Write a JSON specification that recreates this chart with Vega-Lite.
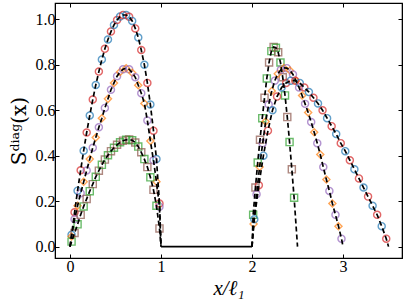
{
  "$schema": "https://vega.github.io/schema/vega-lite/v6.json",
  "width": 347,
  "height": 255,
  "autosize": "none",
  "padding": {"left": 55, "top": 3, "right": 5, "bottom": 47},
  "background": "white",
  "config": {"view": {"stroke": "black", "strokeWidth": 1.2}, "font": "Liberation Serif", "axis": {"labelFont": "Liberation Serif", "titleFont": "Liberation Serif"}},
  "datasets": {
    "pts": [
      {"c":"1","g":"none","x":0,"y":0},
      {"c":"1","g":"blue","x":0.017,"y":0.052},{"c":"1","g":"red","x":0.05,"y":0.151},{"c":"1","g":"blue","x":0.083,"y":0.246},{"c":"1","g":"red","x":0.117,"y":0.336},{"c":"1","g":"blue","x":0.15,"y":0.422},{"c":"1","g":"red","x":0.183,"y":0.502},{"c":"1","g":"blue","x":0.217,"y":0.577},{"c":"1","g":"red","x":0.25,"y":0.647},{"c":"1","g":"blue","x":0.283,"y":0.711},{"c":"1","g":"red","x":0.317,"y":0.77},{"c":"1","g":"blue","x":0.35,"y":0.823},{"c":"1","g":"red","x":0.383,"y":0.87},{"c":"1","g":"blue","x":0.417,"y":0.911},{"c":"1","g":"red","x":0.45,"y":0.946},{"c":"1","g":"blue","x":0.483,"y":0.975},{"c":"1","g":"red","x":0.517,"y":0.997},{"c":"1","g":"blue","x":0.55,"y":1.012},{"c":"1","g":"red","x":0.583,"y":1.019},{"c":"1","g":"blue","x":0.617,"y":1.019},{"c":"1","g":"red","x":0.65,"y":1.011},{"c":"1","g":"blue","x":0.683,"y":0.993},{"c":"1","g":"red","x":0.717,"y":0.96},{"c":"1","g":"blue","x":0.75,"y":0.92},{"c":"1","g":"red","x":0.783,"y":0.865},{"c":"1","g":"blue","x":0.817,"y":0.8},{"c":"1","g":"red","x":0.85,"y":0.72},{"c":"1","g":"blue","x":0.883,"y":0.625},{"c":"1","g":"red","x":0.917,"y":0.51},{"c":"1","g":"blue","x":0.95,"y":0.385},{"c":"1","g":"red","x":0.983,"y":0.19},
      {"c":"1","g":"none","x":1,"y":0},
      {"c":"2","g":"none","x":0,"y":0},
      {"c":"2","g":"orange","x":0.017,"y":0.045},{"c":"2","g":"purple","x":0.05,"y":0.12},{"c":"2","g":"orange","x":0.083,"y":0.18},{"c":"2","g":"purple","x":0.117,"y":0.235},{"c":"2","g":"orange","x":0.15,"y":0.285},{"c":"2","g":"purple","x":0.183,"y":0.335},{"c":"2","g":"orange","x":0.217,"y":0.385},{"c":"2","g":"purple","x":0.25,"y":0.435},{"c":"2","g":"orange","x":0.283,"y":0.48},{"c":"2","g":"purple","x":0.317,"y":0.525},{"c":"2","g":"orange","x":0.35,"y":0.565},{"c":"2","g":"purple","x":0.383,"y":0.61},{"c":"2","g":"orange","x":0.417,"y":0.65},{"c":"2","g":"purple","x":0.45,"y":0.69},{"c":"2","g":"orange","x":0.483,"y":0.72},{"c":"2","g":"purple","x":0.517,"y":0.75},{"c":"2","g":"orange","x":0.55,"y":0.768},{"c":"2","g":"purple","x":0.583,"y":0.78},{"c":"2","g":"orange","x":0.617,"y":0.785},{"c":"2","g":"purple","x":0.65,"y":0.78},{"c":"2","g":"orange","x":0.683,"y":0.765},{"c":"2","g":"purple","x":0.717,"y":0.745},{"c":"2","g":"orange","x":0.75,"y":0.71},{"c":"2","g":"purple","x":0.783,"y":0.675},{"c":"2","g":"orange","x":0.817,"y":0.63},{"c":"2","g":"purple","x":0.85,"y":0.555},{"c":"2","g":"orange","x":0.883,"y":0.465},{"c":"2","g":"purple","x":0.917,"y":0.38},{"c":"2","g":"orange","x":0.95,"y":0.285},{"c":"2","g":"purple","x":0.983,"y":0.175},
      {"c":"2","g":"none","x":1,"y":0},
      {"c":"3","g":"none","x":0,"y":0},
      {"c":"3","g":"green","x":0.017,"y":0.022},{"c":"3","g":"brown","x":0.05,"y":0.06},{"c":"3","g":"green","x":0.083,"y":0.098},{"c":"3","g":"brown","x":0.117,"y":0.14},{"c":"3","g":"green","x":0.15,"y":0.177},{"c":"3","g":"brown","x":0.183,"y":0.21},{"c":"3","g":"green","x":0.217,"y":0.244},{"c":"3","g":"brown","x":0.25,"y":0.275},{"c":"3","g":"green","x":0.283,"y":0.307},{"c":"3","g":"brown","x":0.317,"y":0.334},{"c":"3","g":"green","x":0.35,"y":0.36},{"c":"3","g":"brown","x":0.383,"y":0.383},{"c":"3","g":"green","x":0.417,"y":0.402},{"c":"3","g":"brown","x":0.45,"y":0.42},{"c":"3","g":"green","x":0.483,"y":0.435},{"c":"3","g":"brown","x":0.517,"y":0.448},{"c":"3","g":"green","x":0.55,"y":0.459},{"c":"3","g":"brown","x":0.583,"y":0.466},{"c":"3","g":"green","x":0.617,"y":0.47},{"c":"3","g":"brown","x":0.65,"y":0.471},{"c":"3","g":"green","x":0.683,"y":0.468},{"c":"3","g":"brown","x":0.717,"y":0.458},{"c":"3","g":"green","x":0.75,"y":0.44},{"c":"3","g":"brown","x":0.783,"y":0.415},{"c":"3","g":"green","x":0.817,"y":0.385},{"c":"3","g":"brown","x":0.85,"y":0.35},{"c":"3","g":"green","x":0.883,"y":0.305},{"c":"3","g":"brown","x":0.917,"y":0.25},{"c":"3","g":"green","x":0.95,"y":0.18},{"c":"3","g":"brown","x":0.983,"y":0.08},
      {"c":"3","g":"none","x":1,"y":0},
      {"c":"A","g":"none","x":2,"y":0},
      {"c":"A","g":"green","x":2.0125,"y":0.14},{"c":"A","g":"brown","x":2.0375,"y":0.26},{"c":"A","g":"green","x":2.0625,"y":0.37},{"c":"A","g":"brown","x":2.0875,"y":0.47},{"c":"A","g":"green","x":2.1125,"y":0.565},{"c":"A","g":"brown","x":2.1375,"y":0.655},{"c":"A","g":"green","x":2.1625,"y":0.74},{"c":"A","g":"brown","x":2.1875,"y":0.81},{"c":"A","g":"green","x":2.2125,"y":0.86},{"c":"A","g":"brown","x":2.2375,"y":0.878},{"c":"A","g":"green","x":2.2625,"y":0.875},{"c":"A","g":"brown","x":2.2875,"y":0.855},{"c":"A","g":"green","x":2.3125,"y":0.81},{"c":"A","g":"brown","x":2.3375,"y":0.745},{"c":"A","g":"green","x":2.3625,"y":0.665},{"c":"A","g":"brown","x":2.3875,"y":0.57},{"c":"A","g":"green","x":2.4125,"y":0.46},{"c":"A","g":"brown","x":2.4375,"y":0.34},{"c":"A","g":"green","x":2.4625,"y":0.215},
      {"c":"A","g":"none","x":2.5,"y":0},
      {"c":"B","g":"none","x":2,"y":0},
      {"c":"B","g":"orange","x":2.017,"y":0.1},{"c":"B","g":"purple","x":2.05,"y":0.23},{"c":"B","g":"orange","x":2.083,"y":0.35},{"c":"B","g":"purple","x":2.117,"y":0.455},{"c":"B","g":"orange","x":2.15,"y":0.55},{"c":"B","g":"purple","x":2.183,"y":0.625},{"c":"B","g":"orange","x":2.217,"y":0.685},{"c":"B","g":"purple","x":2.25,"y":0.73},{"c":"B","g":"orange","x":2.283,"y":0.76},{"c":"B","g":"purple","x":2.317,"y":0.778},{"c":"B","g":"orange","x":2.35,"y":0.786},{"c":"B","g":"purple","x":2.383,"y":0.785},{"c":"B","g":"orange","x":2.417,"y":0.775},{"c":"B","g":"purple","x":2.45,"y":0.757},{"c":"B","g":"orange","x":2.483,"y":0.73},{"c":"B","g":"purple","x":2.517,"y":0.7},{"c":"B","g":"orange","x":2.55,"y":0.665},{"c":"B","g":"purple","x":2.583,"y":0.628},{"c":"B","g":"orange","x":2.617,"y":0.59},{"c":"B","g":"purple","x":2.65,"y":0.548},{"c":"B","g":"orange","x":2.683,"y":0.503},{"c":"B","g":"purple","x":2.717,"y":0.455},{"c":"B","g":"orange","x":2.75,"y":0.405},{"c":"B","g":"purple","x":2.783,"y":0.35},{"c":"B","g":"orange","x":2.817,"y":0.295},{"c":"B","g":"purple","x":2.85,"y":0.245},{"c":"B","g":"orange","x":2.883,"y":0.19},{"c":"B","g":"purple","x":2.917,"y":0.14},{"c":"B","g":"orange","x":2.95,"y":0.09},{"c":"B","g":"purple","x":2.983,"y":0.035},
      {"c":"B","g":"none","x":3,"y":0},
      {"c":"C","g":"none","x":2,"y":0},
      {"c":"C","g":"blue","x":2.025,"y":0.12},{"c":"C","g":"red","x":2.075,"y":0.27},{"c":"C","g":"blue","x":2.125,"y":0.4},{"c":"C","g":"red","x":2.175,"y":0.51},{"c":"C","g":"blue","x":2.225,"y":0.6},{"c":"C","g":"red","x":2.275,"y":0.66},{"c":"C","g":"blue","x":2.325,"y":0.7},{"c":"C","g":"red","x":2.375,"y":0.72},{"c":"C","g":"blue","x":2.425,"y":0.73},{"c":"C","g":"red","x":2.475,"y":0.73},{"c":"C","g":"blue","x":2.525,"y":0.72},{"c":"C","g":"red","x":2.575,"y":0.7},{"c":"C","g":"blue","x":2.625,"y":0.68},{"c":"C","g":"red","x":2.675,"y":0.655},{"c":"C","g":"blue","x":2.725,"y":0.63},{"c":"C","g":"red","x":2.775,"y":0.6},{"c":"C","g":"blue","x":2.825,"y":0.565},{"c":"C","g":"red","x":2.875,"y":0.53},{"c":"C","g":"blue","x":2.925,"y":0.495},{"c":"C","g":"red","x":2.975,"y":0.455},{"c":"C","g":"blue","x":3.025,"y":0.42},{"c":"C","g":"red","x":3.075,"y":0.38},{"c":"C","g":"blue","x":3.125,"y":0.34},{"c":"C","g":"red","x":3.175,"y":0.3},{"c":"C","g":"blue","x":3.225,"y":0.26},{"c":"C","g":"red","x":3.275,"y":0.22},{"c":"C","g":"blue","x":3.325,"y":0.18},{"c":"C","g":"red","x":3.375,"y":0.14},{"c":"C","g":"blue","x":3.425,"y":0.09},{"c":"C","g":"red","x":3.475,"y":0.035},
      {"c":"C","g":"none","x":3.5,"y":0}
    ],
    "flat": [{"x": 1, "y": 0}, {"x": 2, "y": 0}]
  },
  "layer": [
    {
      "data": {"name": "pts"},
      "transform": [{"filter": "datum.g != 'none'"}],
      "mark": {"type": "point", "filled": false, "strokeWidth": 1.4, "size": 50},
      "encoding": {
        "x": {"field": "x", "type": "quantitative",
          "scale": {"domain": [-0.165, 3.648], "nice": false, "zero": false},
          "axis": {"values": [0, 1, 2, 3], "format": "d", "title": "x/ℓ₁", "titleFont": "Liberation Serif", "titleFontSize": 21, "titleFontStyle": "italic", "titleFontWeight": "normal", "titleColor": "black", "titlePadding": 3, "labelFont": "Liberation Serif", "labelFontSize": 16, "labelColor": "black", "labelPadding": 4, "tickSize": -4, "tickColor": "black", "domainColor": "black", "grid": false}},
        "y": {"field": "y", "type": "quantitative",
          "scale": {"domain": [-0.05, 1.0717], "nice": false, "zero": false},
          "axis": {"values": [0, 0.2, 0.4, 0.6, 0.8, 1.0], "format": ".1f", "title": "Sᵈⁱᵃᵍ(x)", "titleFont": "DejaVu Serif", "titleFontSize": 20, "titleFontStyle": "normal", "titleFontWeight": "normal", "titleColor": "black", "titlePadding": 6, "labelFont": "Liberation Serif", "labelFontSize": 16, "labelColor": "black", "labelPadding": 4, "tickSize": -4, "tickColor": "black", "domainColor": "black", "grid": false}},
        "color": {"field": "g", "type": "nominal", "scale": {"domain": ["blue", "red", "orange", "purple", "green", "brown"], "range": ["#1f77b4", "#d62728", "#ff7f0e", "#9467bd", "#2ca02c", "#8c564b"]}, "legend": null},
        "shape": {"field": "g", "type": "nominal", "scale": {"domain": ["blue", "red", "orange", "purple", "green", "brown"], "range": ["circle", "circle", "diamond", "circle", "square", "square"]}, "legend": null}
      }
    },
    {
      "data": {"name": "pts"},
      "mark": {"type": "line", "color": "black", "strokeWidth": 1.7, "strokeDash": [5, 3]},
      "encoding": {
        "x": {"field": "x", "type": "quantitative", "axis": {"orient": "top", "values": [0, 1, 2, 3], "labels": false, "title": null, "tickSize": -4, "tickColor": "black", "domainColor": "black", "grid": false}},
        "y": {"field": "y", "type": "quantitative", "axis": {"orient": "right", "values": [0, 0.2, 0.4, 0.6, 0.8, 1.0], "labels": false, "title": null, "tickSize": -4, "tickColor": "black", "domainColor": "black", "grid": false}},
        "detail": {"field": "c"},
        "order": {"field": "x", "type": "quantitative"}
      }
    },
    {
      "data": {"name": "flat"},
      "mark": {"type": "line", "color": "black", "strokeWidth": 1.6},
      "encoding": {
        "x": {"field": "x", "type": "quantitative", "axis": null},
        "y": {"field": "y", "type": "quantitative", "axis": null}
      }
    }
  ],
  "resolve": {"axis": {"x": "independent", "y": "independent"}}
}
